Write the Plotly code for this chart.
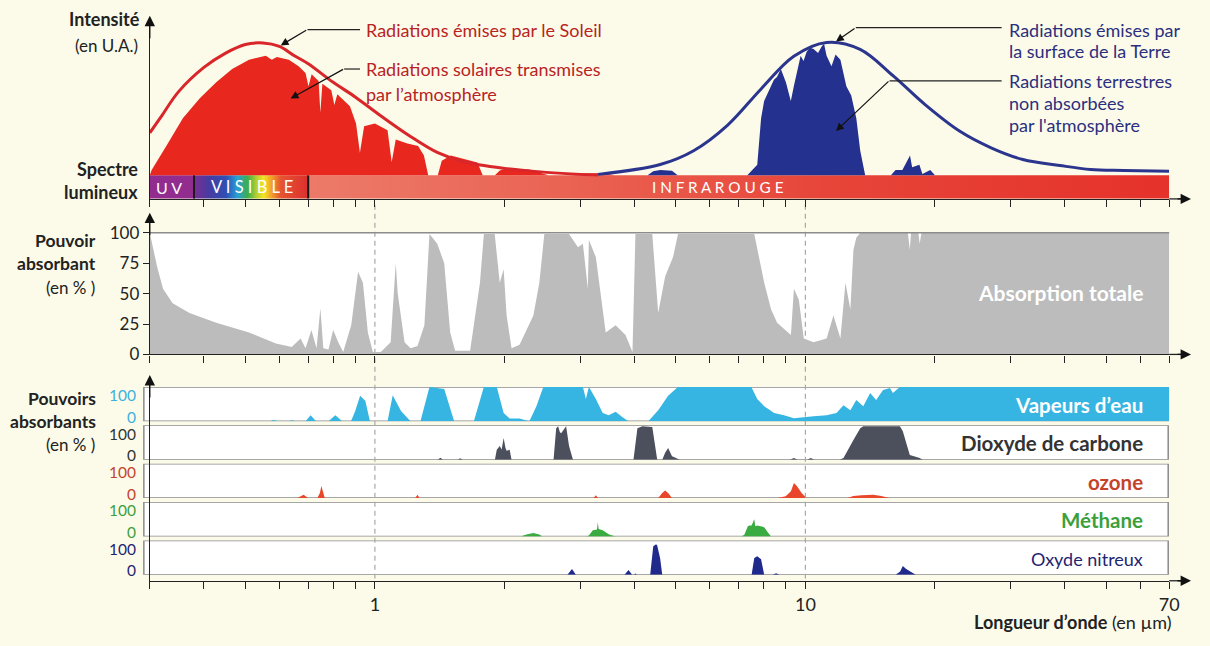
import math
import plotly.graph_objects as go

# ---------------- data ----------------
X_MIN, X_MAX = 0.3, 70
TICK_VALS = [0.3, 0.4, 0.5, 0.6, 0.7, 0.8, 0.9, 1, 2, 3, 4, 5, 6, 7, 8, 9, 10, 20, 30, 40, 50, 60, 70]
TICK_TEXT = [''] * 7 + ['1'] + [''] * 8 + ['10'] + [''] * 5 + ['70']
ABS_TICKS = [0, 25, 50, 75, 100]

SPECTRUM_EDGES = [0.30, 0.38, 0.70, 70]  # UV | visible | infrarouge

SUN_WL = [0.30, 0.32, 0.35, 0.40, 0.45, 0.50, 0.55, 0.60, 0.65, 0.70, 0.80, 0.90, 1.0, 1.2, 1.4, 1.6, 2.0, 2.5, 3.0, 3.3]
SUN_I = [32, 45, 63, 81, 92, 98.5, 99.6, 97, 90, 84, 70, 59, 48, 30, 17, 10.4, 5.2, 2.2, 0.7, 0.3]

EARTH_WL = [3.3, 4.6, 5.5, 6.6, 7.9, 9.4, 11.2, 13.4, 16, 19, 22.8, 27, 32, 39, 46, 55, 70]
EARTH_I = [0.7, 8.1, 18.5, 37.8, 65.2, 89.6, 100, 94.8, 74.8, 53, 33.3, 20.7, 11.9, 7.4, 4.4, 3.7, 3.0]

SOL_T_WL = [0.300, 0.303, 0.329, 0.358, 0.392, 0.428, 0.466, 0.510, 0.558, 0.576, 0.592, 0.631, 0.665, 0.690, 0.701,
            0.713, 0.740, 0.747, 0.755, 0.792, 0.805, 0.818, 0.875, 0.904, 0.923, 0.944, 1.00, 1.07, 1.094, 1.118,
            1.19, 1.26, 1.30, 1.33, 1.40, 1.43, 1.50, 1.61, 1.73, 1.78, 1.90, 1.95, 2.02, 2.28, 2.53, 2.90, 3.00,
            3.40, 3.60]
SOL_T_I = [0, 4, 23, 43, 58, 70, 80, 87, 90, 87, 89, 87, 82, 77, 67,
           76, 71, 47, 69, 64, 53, 61, 52, 39, 17, 37, 39, 34, 10, 27,
           24, 22, 15, 0, 0, 11, 15, 12.6, 9.6, 0, 0, 3.7, 5.2, 4.4, 0, 0, 1.5,
           1.5, 0]

EARTH_T_WL = [4.30, 4.43, 4.60, 4.90, 5.05, 7.33, 7.73, 7.89, 8.02, 8.32, 8.45, 8.59, 8.77, 9.01, 9.25,
              9.40, 9.75, 9.90, 10.07, 10.25, 10.45, 10.70, 10.91, 11.05, 11.20, 11.50, 11.75, 12.06, 12.45,
              12.78, 13.13, 13.41, 13.77, 15.8, 16.2, 16.8, 17.5, 17.7, 18.4, 18.7, 19.5, 20.0]
EARTH_T_I = [0, 3, 4, 3.5, 0, 0, 8, 43, 56, 67, 72, 74, 80, 70, 56,
             67, 90, 86, 93, 96, 95, 92, 97, 99, 90, 82, 91, 87, 67,
             60, 43, 18.5, 0, 0, 4, 4, 15, 6, 8, 1, 4, 0]

TOT_WL = [0.30, 0.312, 0.322, 0.339, 0.371, 0.428, 0.510, 0.589, 0.641, 0.672, 0.690, 0.712, 0.732, 0.747, 0.759,
          0.780, 0.800, 0.822, 0.844, 0.881, 0.914, 0.938, 0.963, 0.989, 1.032, 1.088, 1.118, 1.130, 1.172, 1.210,
          1.256, 1.303, 1.339, 1.396, 1.449, 1.496, 1.536, 1.664, 1.754, 1.791, 1.898, 1.950, 1.991, 2.023, 2.077,
          2.168, 2.334, 2.410, 2.475, 2.825, 2.963, 3.042, 3.124, 3.141, 3.260, 3.347, 3.437, 3.624, 3.821, 3.966,
          4.029, 4.409, 4.551, 4.723, 4.927, 5.059, 7.608, 8.023, 8.325, 8.596, 8.921, 9.256, 9.404, 9.656, 9.915,
          10.45, 11.20, 11.62, 12.06, 12.39, 12.72, 12.93, 13.13, 13.41, 17.3, 17.48, 17.6, 18.3, 18.43, 18.6, 70]
TOT_A = [100, 72, 54, 42, 34, 26, 18, 9, 6, 13, 5, 20, 5, 38, 5,
         4, 20, 10, 2, 24, 68, 59, 18, 2, 2, 10, 75, 50, 10, 5,
         7, 24, 99, 91, 75, 18, 3, 3, 59, 99, 99, 59, 70, 32, 5,
         8, 32, 59, 99, 99, 88, 91, 54, 94, 80, 50, 18, 24, 16, 2,
         99, 99, 34, 64, 80, 99, 99, 59, 37, 26, 21, 16, 54, 45, 13,
         10, 13, 32, 13, 59, 37, 86, 96, 100, 100, 86, 100, 100, 91, 100, 100]

H2O_WL = [0.30, 0.57, 0.582, 0.595, 0.63, 0.641, 0.655, 0.69, 0.709, 0.73, 0.78, 0.809, 0.84, 0.88, 0.90, 0.924,
          0.95, 0.974, 1.07, 1.10, 1.15, 1.21, 1.276, 1.339, 1.449, 1.528, 1.698, 1.791, 1.919, 1.991, 2.056,
          2.168, 2.285, 2.372, 2.462, 3.042, 3.091, 3.141, 3.26, 3.383, 3.492, 3.624, 3.761, 3.882, 4.316, 4.551,
          4.799, 5.059, 7.488, 7.73, 8.023, 8.461, 8.921, 9.404, 10.45, 11.2, 11.81, 12.26, 12.72, 13.13, 13.63,
          14.14, 14.6, 15.15, 15.72, 15.97, 16.58, 70]
H2O_A = [0, 0, 4, 0, 0, 3, 0, 0, 18, 0, 0, 18, 0, 0, 30, 74,
         60, 0, 0, 76, 30, 0, 0, 100, 94, 0, 0, 100, 100, 24, 8,
         8, 0, 44, 100, 100, 65, 100, 65, 24, 18, 28, 12, 0, 0, 32,
         74, 100, 100, 65, 44, 24, 18, 9, 15, 18, 24, 47, 32, 62, 44,
         82, 62, 91, 97, 82, 100, 100]

CO2_WL = [0.30, 1.40, 1.419, 1.44, 1.56, 1.577, 1.60, 1.90, 1.919, 1.95, 1.97, 1.991, 2.01, 2.023, 2.056, 2.077,
          2.60, 2.637, 2.665, 2.69, 2.708, 2.75, 2.781, 2.825, 2.885, 3.987, 4.072, 4.181, 4.409, 4.527, 4.65,
          4.723, 4.799, 4.90, 5.0, 5.113, 9.2, 9.404, 9.6, 10.1, 10.29, 10.5, 12.0, 12.26, 12.93, 13.41, 13.63,
          16.58, 16.84, 17.48, 18.43, 18.73, 70]
CO2_A = [0, 0, 6, 0, 0, 4, 0, 0, 29, 40, 30, 63, 35, 26, 29, 0,
         0, 91, 97, 80, 77, 90, 97, 40, 0, 0, 91, 97, 95, 0, 0,
         20, 34, 10, 5, 0, 0, 5, 0, 0, 5, 0, 0, 5, 57, 91, 97,
         97, 83, 14, 5, 0, 0]

O3_WL = [0.30, 0.66, 0.683, 0.70, 0.735, 0.745, 0.751, 0.76, 0.765, 1.24, 1.256, 1.27, 3.22, 3.26, 3.30, 4.55,
         4.65, 4.723, 4.80, 4.90, 8.6, 9.0, 9.256, 9.404, 9.556, 9.8, 10.07, 12.5, 12.93, 13.5, 14.37, 15.0,
         15.72, 70]
O3_A = [0, 0, 10, 0, 0, 15, 35, 10, 0, 0, 10, 0, 0, 8, 0, 0,
        15, 22, 15, 0, 0, 5, 20, 44, 35, 15, 0, 0, 6, 8, 10, 6,
        0, 0]

CH4_WL = [0.30, 2.18, 2.249, 2.334, 2.41, 2.45, 3.10, 3.141, 3.208, 3.28, 3.294, 3.31, 3.383, 3.50, 3.624, 7.10,
          7.214, 7.35, 7.408, 7.50, 7.608, 7.65, 7.73, 8.023, 8.20, 8.325, 70]
CH4_A = [0, 0, 6, 10, 6, 0, 0, 3, 18, 20, 41, 22, 18, 6, 0, 0,
         5, 30, 32, 32, 50, 30, 32, 27, 10, 0, 0]

N2O_WL = [0.30, 2.80, 2.87, 2.93, 3.80, 3.882, 3.96, 4.00, 4.03, 4.06, 4.36, 4.40, 4.432, 4.50, 4.527, 4.598,
          4.65, 7.50, 7.608, 7.73, 7.89, 8.023, 8.40, 8.55, 8.70, 16.2, 16.6, 16.84, 17.12, 17.6, 18.05, 70]
N2O_A = [0, 0, 17, 0, 0, 14, 0, 0, 4, 0, 0, 60, 83, 89, 85, 48,
         0, 0, 49, 54, 45, 0, 0, 5, 0, 0, 10, 26, 18, 8, 0, 0]

GASES = [
    # name, wl, values, fill colour, label colour, label, bold
    ('h2o', H2O_WL, H2O_A, '#37b5e2', '#3fb0dc', 'Vapeurs d’eau', True),
    ('co2', CO2_WL, CO2_A, '#4b505c', '#333333', 'Dioxyde de carbone', True),
    ('o3', O3_WL, O3_A, '#e8472b', '#c4432a', 'ozone', True),
    ('ch4', CH4_WL, CH4_A, '#3aab41', '#3c9f3c', 'Méthane', True),
    ('n2o', N2O_WL, N2O_A, '#1f2a8c', '#1f2470', 'Oxyde nitreux', False),
]

# ---------------- layout helpers (window pixels -> paper) ----------------
# the page body keeps its default 8 px margin, so the figure is 16 px smaller than the window
PAGE_MARGIN = 8
W, H = 1210 - 2 * PAGE_MARGIN, 646 - 2 * PAGE_MARGIN
FONT = 'Lato, "Open Sans", sans-serif'
BG = '#fcfbea'


def PX(x):
    return (x - PAGE_MARGIN) / W


def PY(y):
    return 1 - (y - PAGE_MARGIN) / H


K_TOP = 1.35      # px per intensity unit
BASE_TOP = 178    # pixel row of intensity 0
K_MID = 1.236     # px per %
STRIPS = [(393, 428), (432, 467), (471, 506), (510, 545), (549, 584)]
BAR_BOTTOM = -17.5

fig = go.Figure()

# ---- spectrum bar ----
uv0, uv1, ir0, ir1 = SPECTRUM_EDGES
fig.add_trace(go.Scatter(x=[uv0, uv1, uv1, uv0], y=[BAR_BOTTOM, BAR_BOTTOM, 0, 0], fill='toself',
                         fillcolor='#922c8e', line=dict(width=0), mode='lines', xaxis='x2', yaxis='y'))
fig.add_trace(go.Scatter(x=[uv1, ir0, ir0, uv1], y=[BAR_BOTTOM, BAR_BOTTOM, 0, 0], fill='toself',
                         fillgradient=dict(type='horizontal', colorscale=[
                             [0, '#7b2e92'], [0.12, '#4a3aa0'], [0.28, '#2f4fb4'], [0.38, '#2a9fd6'],
                             [0.47, '#3daf4a'], [0.55, '#b9d030'], [0.61, '#f4e424'], [0.68, '#f29f2a'],
                             [0.76, '#e65530'], [1, '#dc2f2f']]),
                         line=dict(width=0), mode='lines', xaxis='x2', yaxis='y'))
fig.add_trace(go.Scatter(x=[ir0, ir1, ir1, ir0], y=[BAR_BOTTOM, BAR_BOTTOM, 0, 0], fill='toself',
                         fillgradient=dict(type='horizontal', colorscale=[
                             [0, '#ec7a69'], [0.3, '#ea6353'], [0.6, '#e74539'], [1, '#e5322b']]),
                         line=dict(width=0), mode='lines', xaxis='x2', yaxis='y'))
for edge in (uv1, ir0):
    fig.add_trace(go.Scatter(x=[edge, edge], y=[BAR_BOTTOM, 0], mode='lines',
                             line=dict(color='#1a1a1a', width=2), xaxis='x2', yaxis='y'))

# ---- intensity panel ----
fig.add_trace(go.Scatter(x=SOL_T_WL, y=SOL_T_I, fill='tozeroy', fillcolor='#e8271f', mode='lines',
                         line=dict(width=0), xaxis='x2', yaxis='y'))
fig.add_trace(go.Scatter(x=EARTH_T_WL, y=EARTH_T_I, fill='tozeroy', fillcolor='#25318f', mode='lines',
                         line=dict(width=0), xaxis='x2', yaxis='y'))
fig.add_trace(go.Scatter(x=SUN_WL, y=SUN_I, mode='lines', line=dict(color='#d8262a', width=3, shape='spline'),
                         xaxis='x2', yaxis='y'))
fig.add_trace(go.Scatter(x=EARTH_WL, y=EARTH_I, mode='lines', line=dict(color='#2b358e', width=3, shape='spline'),
                         xaxis='x2', yaxis='y'))

# ---- total absorption ----
fig.add_trace(go.Scatter(x=TOT_WL, y=TOT_A, fill='tozeroy', fillcolor='#bcbcbc', mode='lines',
                         line=dict(width=0), xaxis='x3', yaxis='y2'))

# ---- gases ----
for i, (name, wl, val, col, lcol, lab, bold) in enumerate(GASES):
    fig.add_trace(go.Scatter(x=wl, y=val, fill='tozeroy', fillcolor=col, mode='lines', line=dict(width=0),
                             xaxis='x', yaxis='y%d' % (3 + i)))

# bottom axis holder + dashed guide lines
fig.add_trace(go.Scatter(x=[X_MIN], y=[0], mode='markers', marker=dict(opacity=0), xaxis='x', yaxis='y8'))
fig.add_trace(go.Scatter(x=[1, 1, None, 10, 10], y=[0, 1, None, 0, 1], mode='lines',
                         line=dict(color='#a8a8a8', width=1.2, dash='5px,4px'), xaxis='x', yaxis='y9'))

# ---------------- axes ----------------
xcommon = dict(type='log', range=[math.log10(X_MIN), math.log10(X_MAX)], domain=[PX(151), PX(1179)],
               tickvals=TICK_VALS, ticktext=TICK_TEXT, ticks='outside', ticklen=7, tickwidth=1.2,
               tickcolor='#222', showline=True, linecolor='#222', linewidth=1.3, showgrid=False,
               zeroline=False, tickfont=dict(size=18, color='#222', family=FONT), fixedrange=True)
layout_axes = dict(
    xaxis=dict(**xcommon, anchor='y8'),
    xaxis2=dict(**xcommon, anchor='y', matches='x', showticklabels=False),
    xaxis3=dict(**xcommon, anchor='y2', matches='x', showticklabels=False),
    yaxis=dict(domain=[PY(202), PY(24)], range=[-(202 - BASE_TOP) / K_TOP, (BASE_TOP - 24) / K_TOP],
               showline=True, linecolor='#222', linewidth=1.3, ticks='', showticklabels=False,
               showgrid=False, zeroline=False, anchor='x2', fixedrange=True),
    yaxis2=dict(domain=[PY(360), PY(222)], range=[0, (360 - 222) / K_MID], tickvals=ABS_TICKS,
                ticks='outside', ticklen=6, tickwidth=1.2, tickcolor='#222', showline=True,
                linecolor='#222', linewidth=1.3, showgrid=False, zeroline=False, anchor='x3',
                tickfont=dict(size=17, color='#222', family=FONT), fixedrange=True),
    yaxis8=dict(domain=[PY(590), PY(386)], range=[0, 1], showline=True, linecolor='#222', linewidth=1.3,
                ticks='', showticklabels=False, showgrid=False, zeroline=False, anchor='x', fixedrange=True),
    yaxis9=dict(domain=[PY(588), PY(206)], range=[0, 1], visible=False, anchor='x', fixedrange=True),
)
for i, (top, bot) in enumerate(STRIPS):
    layout_axes['yaxis%d' % (3 + i)] = dict(domain=[PY(bot), PY(top)], range=[0, 100], visible=False,
                                            anchor='x', fixedrange=True)

# ---------------- shapes ----------------
shapes = []
shapes.append(dict(type='rect', xref='paper', yref='y2', x0=PX(151), x1=PX(1179), y0=0, y1=100,
                   fillcolor='white', line=dict(width=0), layer='below'))
shapes.append(dict(type='line', xref='paper', yref='y2', x0=PX(151), x1=PX(1179), y0=100, y1=100,
                   line=dict(color='#8c8c8c', width=1.5)))
for i, (top, bot) in enumerate(STRIPS):
    shapes.append(dict(type='rect', xref='paper', yref='y%d' % (3 + i), x0=PX(145), x1=PX(1178), y0=0, y1=100,
                       fillcolor='white', line=dict(color='#8a8a8a', width=1.5), layer='below'))
# axis extensions beyond the domain
for yy in (202, 360, 590):
    shapes.append(dict(type='line', xref='paper', yref='paper', x0=PX(1179), x1=PX(1196), y0=PY(yy), y1=PY(yy),
                       line=dict(color='#222', width=1.3)))
# label leader lines (horizontal parts)
for (x0, x1, yy) in [(363, 310, 30), (363, 347, 70), (1010, 863, 28), (1010, 897, 82)]:
    shapes.append(dict(type='line', xref='paper', yref='paper', x0=PX(x0), x1=PX(x1), y0=PY(yy), y1=PY(yy),
                       line=dict(color='#222', width=1.2)))

# ---------------- annotations ----------------
ann = []


def txt(x, y, s, size=17, color='#222', anchor='left'):
    ann.append(dict(xref='paper', yref='paper', x=PX(x), y=PY(y), text=s, showarrow=False, xanchor=anchor,
                    yanchor='middle', font=dict(family=FONT, size=size, color=color)))


def arr(xt, yt, xs, ys, width=1.2, size=1.3):
    ann.append(dict(xref='paper', yref='paper', x=PX(xt), y=PY(yt), ax=xs - xt, ay=ys - yt, axref='pixel',
                    ayref='pixel', text='', showarrow=True, arrowhead=2, arrowwidth=width, arrowsize=size,
                    arrowcolor='#111', standoff=0, startstandoff=0))


RED_T = '#b9231f'
BLUE_T = '#2b2f7e'
txt(143, 19, '<b>Intensité</b>', 18, '#222', 'right')
txt(141, 46, '(en U.A.)', 17, '#222', 'right')
txt(141, 172, '<b>Spectre</b>', 18, '#222', 'right')
txt(141, 195, '<b>lumineux</b>', 18, '#222', 'right')
txt(99, 244, '<b>Pouvoir</b>', 17.5, '#222', 'right')
txt(99, 268, '<b>absorbant</b>', 17.5, '#222', 'right')
txt(98, 292, '(en % )', 17, '#222', 'right')
txt(99, 405, '<b>Pouvoirs</b>', 17.5, '#222', 'right')
txt(99, 428, '<b>absorbants</b>', 17.5, '#222', 'right')
txt(98, 452, '(en % )', 17, '#222', 'right')

txt(367, 30, 'Radiations émises par le Soleil', 18, RED_T)
txt(367, 70, 'Radiations solaires transmises', 18, RED_T)
txt(367, 95, 'par l’atmosphère', 18, RED_T)
txt(1015, 30, 'Radiations émises par', 18, BLUE_T)
txt(1015, 52, 'la surface de la Terre', 18, BLUE_T)
txt(1015, 82, 'Radiations terrestres', 18, BLUE_T)
txt(1015, 105, 'non absorbées', 18, BLUE_T)
txt(1015, 127, "par l'atmosphère", 18, BLUE_T)

txt(170, 190, 'U V', 16, 'white', 'center')
txt(254, 190, 'V I S I B L E', 16.5, 'white', 'center')
txt(724, 190, 'I N F R A R O U G E', 15.3, 'white', 'center')

txt(1155, 297, '<b>Absorption totale</b>', 21, 'white', 'right')
for i, (name, wl, val, col, lcol, lab, bold) in enumerate(GASES):
    top, bot = STRIPS[i]
    txt(139, top + 8.5, '100', 15.5, lcol, 'right')
    txt(139, bot - 4.5, '0', 15.5, lcol, 'right')
    txt(1155, (top + bot) / 2 + 1, ('<b>%s</b>' % lab) if bold else lab, 20.5 if bold else 18,
        'white' if i == 0 else lcol, 'right')

txt(1183, 632, '<b>Longueur d’onde</b> (en µm)', 18, '#222', 'right')

# arrows
arr(283, 46, 310, 30)
arr(293, 100, 347, 70)
arr(843, 42, 863, 28)
arr(843, 133, 897, 82)
for yy in (202, 360, 590):
    arr(1201, yy, 1186, yy, 1.3, 1.6)
for (yt, yb) in ((16, 40), (216, 240), (381, 405)):
    arr(151, yt, 151, yb, 1.3, 1.6)

fig.update_layout(width=W, height=H, margin=dict(l=0, r=0, t=0, b=0), paper_bgcolor=BG,
                  plot_bgcolor='rgba(0,0,0,0)', showlegend=False, hovermode=False,
                  font=dict(family=FONT, color='#222'), shapes=shapes, annotations=ann, **layout_axes)

fig.write_html('out.html', config={'displayModeBar': False},
               post_script="document.body.style.background='" + BG + "';")
